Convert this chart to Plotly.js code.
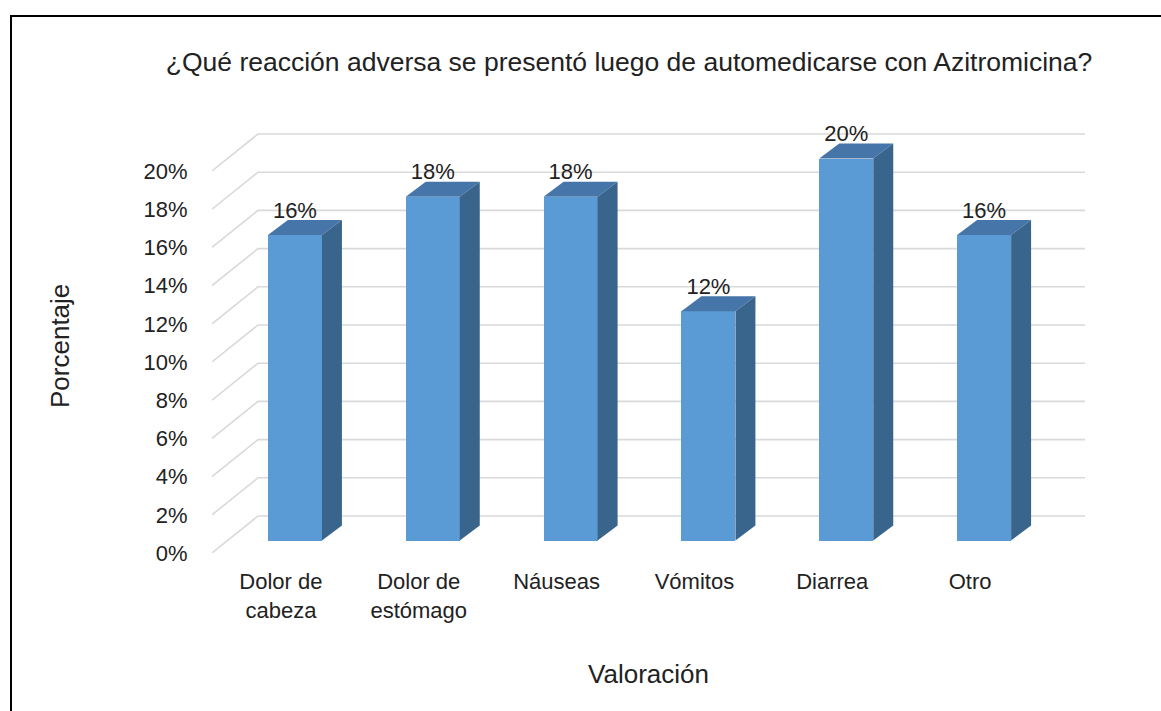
<!DOCTYPE html>
<html>
<head>
<meta charset="utf-8">
<script src="https://cdn.plot.ly/plotly-3.0.1.min.js"></script>
<style>
  html, body { margin: 0; padding: 0; background: #fff; }
  #chart { width: 1161px; height: 711px; position: relative; }
  #frame { position: absolute; left: 10px; top: 15px; width: 1200px; height: 720px;
           border-top: 2.5px solid #000; border-left: 2.5px solid #000; pointer-events: none; z-index: 10; }
</style>
</head>
<body>
<div id="chart"></div>
<div id="frame"></div>
<script>
// ---- data ----
const categories = ['Dolor de<br>cabeza', 'Dolor de<br>estómago', 'Náuseas', 'Vómitos', 'Diarrea', 'Otro'];
const values = [16, 18, 18, 12, 20, 16];
const valueLabels = ['16%', '18%', '18%', '12%', '20%', '16%'];
const tickValues = [0, 2, 4, 6, 8, 10, 12, 14, 16, 18, 20];
const tickLabels = ['0%', '2%', '4%', '6%', '8%', '10%', '12%', '14%', '16%', '18%', '20%'];

// ---- 3D geometry (data units) ----
const DX = 0.3337, DY = 1.937;   // back wall offset
const BX = 0.1016, BY = 0.654;   // bar front face offset
const HW = 0.196;                // bar half width
const SX = 0.145, SY = 0.785;    // bar depth
const xs = categories.map((c, i) => i);
const n = categories.length;

const FRONT = '#5B9BD5', TOP = '#4675A9', SIDE = '#39648C';
const TXT = '#222222';

const shapes = tickValues.map(v => ({
  type: 'path', xref: 'x', yref: 'y', layer: 'below',
  path: `M ${-0.5},${v} L ${-0.5 + DX},${v + DY} L ${n - 0.5 + DX},${v + DY}`,
  line: { color: '#d9d9d9', width: 1.6 }
}));

const traces = [];
traces.push({
  type: 'bar', x: xs.map(x => x + BX), y: values, base: BY, width: 2 * HW,
  marker: { color: FRONT, line: { width: 0 } }, hoverinfo: 'skip', showlegend: false
});
values.forEach((v, i) => {
  const xl = xs[i] + BX - HW, xr = xs[i] + BX + HW, top = BY + v;
  traces.push({
    type: 'scatter', mode: 'lines', fill: 'toself', fillcolor: TOP, line: { width: 0, color: TOP },
    x: [xl, xr, xr + SX, xl + SX, xl], y: [top, top, top + SY, top + SY, top],
    hoverinfo: 'skip', showlegend: false
  });
  traces.push({
    type: 'scatter', mode: 'lines', fill: 'toself', fillcolor: SIDE, line: { width: 0, color: SIDE },
    x: [xr, xr + SX, xr + SX, xr, xr], y: [BY, BY + SY, top + SY, top, BY],
    hoverinfo: 'skip', showlegend: false
  });
});
traces.push({
  type: 'scatter', mode: 'text', x: xs.map(x => x + BX), y: values.map(v => BY + v + SY - 0.17),
  text: valueLabels, textposition: 'top center',
  textfont: { family: 'Liberation Sans, Arial, sans-serif', size: 22, color: TXT },
  hoverinfo: 'skip', showlegend: false, cliponaxis: false
});

const font = { family: 'Liberation Sans, Arial, sans-serif', color: TXT };

const layout = {
  width: 1161, height: 711,
  margin: { l: 212, r: 76, t: 100, b: 158 },
  paper_bgcolor: '#fff', plot_bgcolor: '#fff',
  font: font,
  title: {
    text: '¿Qué reacción adversa se presentó luego de automedicarse con Azitromicina?',
    font: { family: font.family, size: 26.5, color: TXT },
    xref: 'container', x: 0.5418, xanchor: 'center',
    yref: 'container', y: 1 - 62 / 711, yanchor: 'middle'
  },
  xaxis: {
    range: [-0.5, n - 0.5 + DX], tickvals: xs, ticktext: categories,
    showgrid: false, zeroline: false, showline: false,
    ticks: 'outside', ticklen: 9, tickcolor: 'rgba(0,0,0,0)',
    tickfont: { family: font.family, size: 22, color: TXT },
    title: { text: 'Valoración', font: { family: font.family, size: 26, color: TXT }, standoff: 42 },
    fixedrange: true
  },
  yaxis: {
    range: [0, 453 / 19.1], tickvals: tickValues, ticktext: tickLabels,
    showgrid: false, zeroline: false, showline: false,
    ticks: 'outside', ticklen: 19, tickcolor: 'rgba(0,0,0,0)',
    tickfont: { family: font.family, size: 22, color: TXT },
    fixedrange: true
  },
  annotations: [{
    text: 'Porcentaje', textangle: -90, showarrow: false,
    xref: 'paper', yref: 'paper', x: (60 - 212) / 873, y: (553 - 346) / 453,
    xanchor: 'center', yanchor: 'middle',
    font: { family: font.family, size: 26, color: TXT }
  }],
  shapes: shapes,
  bargap: 0
};

Plotly.newPlot('chart', traces, layout, { displayModeBar: false, staticPlot: true });
</script>
</body>
</html>
